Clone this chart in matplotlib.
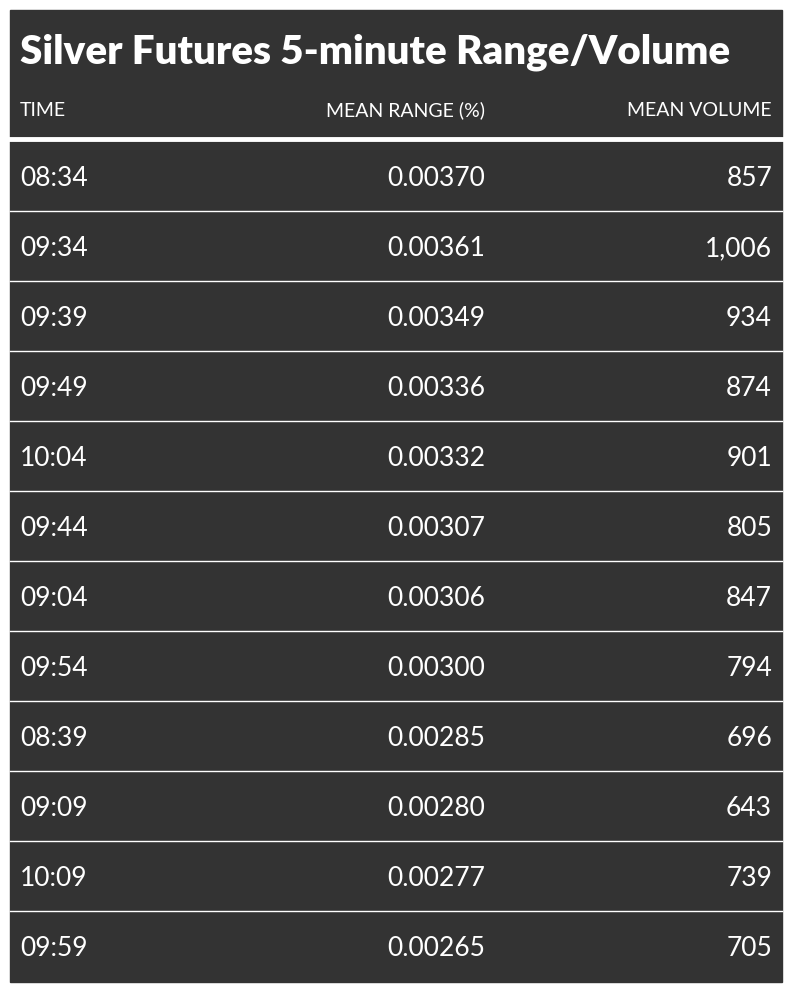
import matplotlib.pyplot as plt
from matplotlib.patches import Rectangle

title = "Silver Futures 5-minute Range/Volume"
headers = ["TIME", "MEAN RANGE (%)", "MEAN VOLUME"]
times = ["08:34", "09:34", "09:39", "09:49", "10:04", "09:44",
         "09:04", "09:54", "08:39", "09:09", "10:09", "09:59"]
mean_range = [0.00370, 0.00361, 0.00349, 0.00336, 0.00332, 0.00307,
              0.00306, 0.00300, 0.00285, 0.00280, 0.00277, 0.00265]
mean_volume = [857, 1006, 934, 874, 901, 805, 847, 794, 696, 643, 739, 705]

W, H = 792, 994
bg = "#333333"
fig = plt.figure(figsize=(W / 100, H / 100), dpi=100)
ax = fig.add_axes([0, 0, 1, 1])
ax.set_xlim(0, W)
ax.set_ylim(H, 0)
ax.axis("off")

font = "Lato"
ax.add_patch(Rectangle((10, 10), 772, 972, color=bg))
ax.text(20, 52, title, fontsize=29, fontweight="heavy", color="white",
        family=font, va="center", ha="left")
hs = 14
ax.text(20, 110, headers[0], fontsize=hs, color="white", family=font, va="center")
ax.text(485, 110, headers[1], fontsize=hs, color="white", family=font, va="center", ha="right")
ax.text(772, 110, headers[2], fontsize=hs, color="white", family=font, va="center", ha="right")
ax.plot([10, 782], [139, 139], color="white", lw=3.5)

top = 141
row_h = 70
for i, (t, r, v) in enumerate(zip(times, mean_range, mean_volume)):
    y0 = top + i * row_h
    if i > 0:
        ax.plot([10, 782], [y0, y0], color="white", lw=1)
    yc = y0 + row_h / 2 + 3
    ax.text(20, yc, t, fontsize=19, color="white", family=font, va="center")
    ax.text(485, yc, f"{r:.5f}", fontsize=19, color="white", family=font, va="center", ha="right")
    ax.text(772, yc, f"{v:,}", fontsize=19, color="white", family=font, va="center", ha="right")

fig.savefig("out.png", dpi=100, facecolor="white")
